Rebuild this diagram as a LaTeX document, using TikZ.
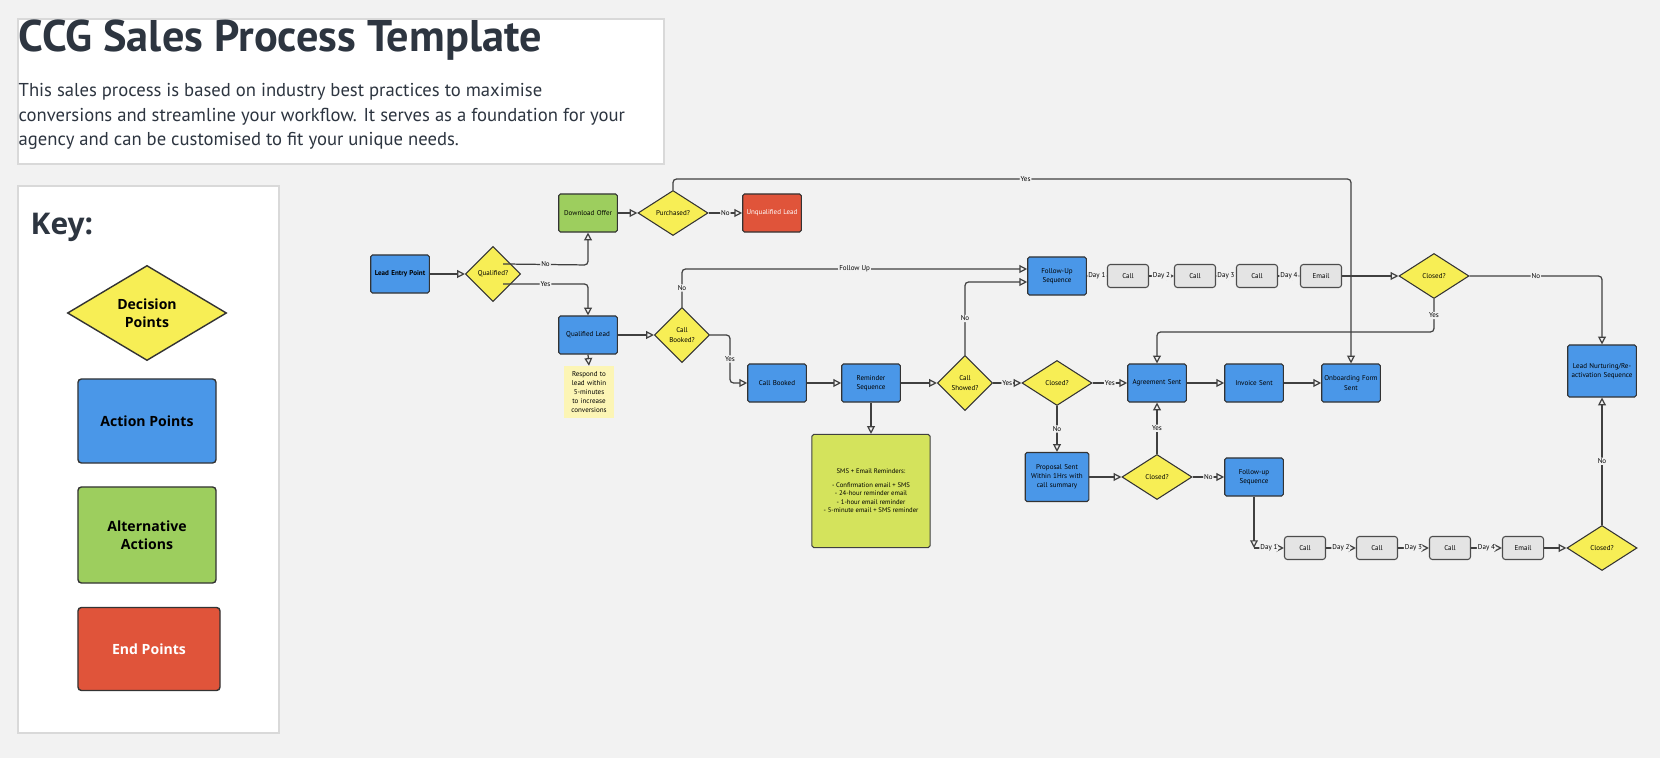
\documentclass[tikz,border=0pt]{standalone}
\usepackage{fontspec}
\setmainfont{PT Sans}
\newfontfamily\keyfont{Open Sans}
\usetikzlibrary{shapes.geometric,arrows.meta}
\definecolor{bg}{HTML}{F2F2F2}
\definecolor{cblue}{HTML}{4A97E8}
\definecolor{cgreen}{HTML}{9DCE5E}
\definecolor{cred}{HTML}{E0543A}
\definecolor{cyel}{HTML}{F7EE55}
\definecolor{cgrey}{HTML}{E4E4E4}
\definecolor{csms}{HTML}{D4E35C}
\definecolor{cnote}{HTML}{FCF5B5}
\definecolor{ctext}{HTML}{2D3540}
\tikzset{
 tiny/.style={font=\fontsize{2}{2.6}\selectfont, align=center},
 act/.style={tiny, draw=black!80, line width=0.3pt, fill=cblue, rounded corners=0.5pt, minimum width=0.57cm, minimum height=0.38cm, inner sep=0.5pt, text width=0.55cm},
 dec/.style={tiny, draw=black!80, line width=0.3pt, fill=cyel, diamond, inner sep=0pt, minimum width=0.55cm, minimum height=0.55cm},
 decw/.style={dec, minimum width=0.70cm, minimum height=0.45cm},
 grey/.style={tiny, draw=black!70, line width=0.3pt, fill=cgrey, rounded corners=0.8pt, minimum width=0.41cm, minimum height=0.23cm, inner sep=0pt},
 ar/.style={draw=black!75, line width=0.35pt, -{Triangle[open,length=2.2pt,width=2.2pt]}, rounded corners=1pt},
 lab/.style={tiny, fill=bg, inner sep=0.3pt},
}
\begin{document}
\begin{tikzpicture}[x=0.01cm,y=-0.01cm]
\fill[bg] (0,0) rectangle (1660,758);
\useasboundingbox (0,0) rectangle (1660,758);
% title box
\node[draw=black!15, fill=white, line width=0.5pt, minimum width=6.46cm, minimum height=1.45cm, anchor=north west, inner sep=0] (title) at (17,18) {};
\node[anchor=west, font=\fontsize{12.6}{14}\selectfont\bfseries, text=ctext, inner sep=0] (tt) at (18,40) {CCG Sales Process Template};
\node[anchor=north west, font=\fontsize{5.3}{6.9}\selectfont, text=ctext, align=left, inner sep=0] (td) at (18,83) {This sales process is based on industry best practices to maximise\\conversions and streamline your workflow. It serves as a foundation for your\\agency and can be customised to fit your unique needs.};
% key
\node[draw=black!15, fill=white, line width=0.5pt, minimum width=2.61cm, minimum height=5.47cm, anchor=north west, inner sep=0] (key) at (17,185) {};
\node[anchor=west, font=\keyfont\fontsize{8.5}{10}\selectfont\bfseries, text=ctext, inner sep=0] (kt) at (30,227) {Key:};
\node[draw=black!80, fill=cyel, diamond, inner sep=0, minimum width=1.59cm, minimum height=0.95cm, font=\keyfont\fontsize{4}{5}\selectfont\bfseries, align=center] (k1) at (147,313) {Decision\\Points};
\node[draw=black!80, fill=cblue, rounded corners=1pt, minimum width=1.38cm, minimum height=0.84cm, font=\keyfont\fontsize{4}{5}\selectfont\bfseries] (k2) at (147,421) {Action Points};
\node[draw=black!80, fill=cgreen, rounded corners=1pt, minimum width=1.38cm, minimum height=0.96cm, font=\keyfont\fontsize{4}{5}\selectfont\bfseries, align=center] (k3) at (147,535) {Alternative\\Actions};
\node[draw=black!80, fill=cred, rounded corners=1pt, minimum width=1.42cm, minimum height=0.83cm, font=\keyfont\fontsize{4}{5}\selectfont\bfseries, text=white] (k4) at (149,649) {End Points};
% flow nodes
\node[act, font=\fontsize{2}{2.6}\selectfont\bfseries] (lep) at (400,274) {Lead Entry Point};
\node[dec] (qual) at (493,274) {Qualified?};
\node[act, fill=cgreen] (dl) at (588,213) {Download Offer};
\node[decw] (pur) at (673,213) {Purchased?};
\node[act, fill=cred, text=white] (unq) at (772,213) {Unqualified Lead};
\node[act] (ql) at (588,335) {Qualified Lead};
\node[tiny, fill=cnote, minimum width=0.5cm, minimum height=0.51cm, text width=0.46cm, inner sep=0.3pt] (note) at (589,392) {Respond to lead within 5-minutes to increase conversions};
\node[dec] (cbq) at (682,335) {Call\\Booked?};
\node[act] (cb) at (777,383) {Call Booked};
\node[act] (rem) at (871,383) {Reminder\\Sequence};
\node[dec] (csq) at (965,383) {Call\\Showed?};
\node[decw] (cl1) at (1057,383) {Closed?};
\node[act] (agr) at (1157,383) {Agreement Sent};
\node[act] (inv) at (1254,383) {Invoice Sent};
\node[act] (onb) at (1351,383) {Onboarding Form\\Sent};
\node[draw=black!75, line width=0.3pt, fill=csms, rounded corners=0.5pt, minimum width=1.05cm, minimum height=1.13cm, font=\fontsize{1.9}{2.4}\selectfont, align=center] (sms) at (871,491) {SMS + Email Reminders:\\[1.5pt] - Confirmation email + SMS\\ - 24-hour reminder email\\ - 1-hour email reminder\\ - 5-minute email + SMS reminder};
\node[act] (fu1) at (1057,276) {Follow-Up\\Sequence};
\node[grey] (c11) at (1128,276) {Call};
\node[grey] (c12) at (1195,276) {Call};
\node[grey] (c13) at (1257,276) {Call};
\node[grey] (e1) at (1321,276) {Email};
\node[decw] (cl3) at (1434,276) {Closed?};
\node[act, minimum width=0.67cm, minimum height=0.52cm, text width=0.65cm] (nur) at (1602,371) {Lead Nurturing/Re-activation Sequence};
\node[act, minimum width=0.62cm, minimum height=0.49cm, text width=0.6cm] (prop) at (1057,477) {Proposal Sent\\Within 1Hrs with\\call summary};
\node[decw] (cl2) at (1157,477) {Closed?};
\node[act] (fu2) at (1254,477) {Follow-up\\Sequence};
\coordinate (d1) at (1254,548);
\node[grey] (c21) at (1305,548) {Call};
\node[grey] (c22) at (1377,548) {Call};
\node[grey] (c23) at (1450,548) {Call};
\node[grey] (e2) at (1523,548) {Email};
\node[decw] (cl4) at (1602,548) {Closed?};
% connectors
\draw[ar] (qual.north east) ++(-4,4) -- (588,265) node[lab, pos=0.5] {No} -- (dl.south);
\draw[ar] (qual.south east) ++(-4,-4) -- (588,284) node[lab, pos=0.5] {Yes} -- (ql.north);
\draw[ar] (lep) -- (qual);
\draw[ar] (dl) -- (pur);
\draw[ar] (pur) -- node[lab] {No} (unq);
\draw[ar] (pur.north) -- (673,179) -- node[lab, pos=0.52] {Yes} (1351,179) -- (onb.north);
\draw[ar] (ql) -- (cbq);
\draw[ar] (ql.south) -- (note.north);
\draw[ar] (cbq.north) -- node[lab] {No} (682,269) -- node[lab, pos=0.5] {Follow Up} (fu1.west |- 0,269);
\draw[ar] (cbq.east) -- (730,335) -- node[lab] {Yes} (730,383) -- (cb.west);
\draw[ar] (cb) -- (rem);
\draw[ar] (rem) -- (sms);
\draw[ar] (rem) -- (csq);
\draw[ar] (csq.north) -- node[lab] {No} (965,282) -- (fu1.west |- 0,282);
\draw[ar] (csq) -- node[lab] {Yes} (cl1);
\draw[ar] (cl1) -- node[lab] {Yes} (agr);
\draw[ar] (cl1) -- node[lab] {No} (prop);
\draw[ar] (prop) -- (cl2);
\draw[ar] (cl2) -- node[lab] {Yes} (agr);
\draw[ar] (cl2) -- node[lab] {No} (fu2);
\draw[ar] (agr) -- (inv);
\draw[ar] (inv) -- (onb);
\draw[ar] (fu1) -- node[lab] {Day 1} (c11);
\draw[ar] (c11) -- node[lab] {Day 2} (c12);
\draw[ar] (c12) -- node[lab] {Day 3} (c13);
\draw[ar] (c13) -- node[lab] {Day 4} (e1);
\draw[ar] (e1) -- (cl3);
\draw[ar] (cl3.east) -- node[lab] {No} (1602,276) -- (nur.north);
\draw[ar] (cl3.south) -- node[lab] {Yes} (1434,332) -- (1157,332) -- (agr.north);
\draw[ar] (fu2.south) -- (d1);
\draw[ar] (d1) -- node[lab] {Day 1} (c21);
\draw[ar] (c21) -- node[lab] {Day 2} (c22);
\draw[ar] (c22) -- node[lab] {Day 3} (c23);
\draw[ar] (c23) -- node[lab] {Day 4} (e2);
\draw[ar] (e2) -- (cl4);
\draw[ar] (cl4) -- node[lab] {No} (nur);
\end{tikzpicture}
\end{document}
